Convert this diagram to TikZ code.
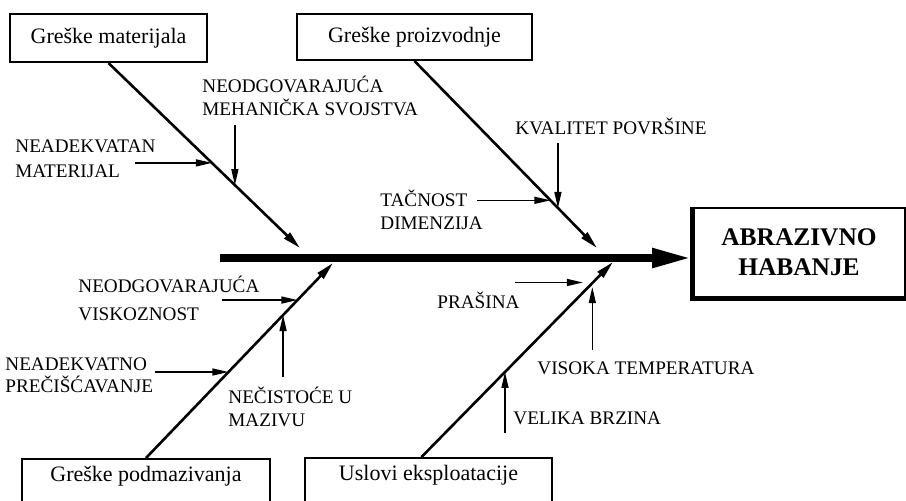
\documentclass[tikz,border=0pt]{standalone}
\usepackage{fontspec}
\setmainfont{Liberation Serif}
\usetikzlibrary{arrows.meta,calc}

\begin{document}
\begin{tikzpicture}[x=0.5pt,y=-0.5pt,
	catbox/.style={draw,line width=1pt,inner sep=0pt,font=\fontsize{11}{13}\selectfont},
	cause/.style={anchor=west,inner sep=0pt,align=left,font=\fontsize{9.6}{11.5}\selectfont},
	bone/.style={line width=1.3pt,-{Triangle[length=9pt,width=4pt]}},
	twig/.style={line width=0.65pt,-{Triangle[length=8pt,width=3.5pt]}}]
	\useasboundingbox (0,0) rectangle (906,500);
	% kategorije
	\node[catbox,minimum width=98.5pt,minimum height=24pt] (mat) at (108.5,38) {Greške materijala};
	\node[catbox,minimum width=117.5pt,minimum height=23pt] (proiz) at (414.5,37) {Greške proizvodnje};
	\node[catbox,anchor=north,minimum width=124pt,inner ysep=3pt,text height=8pt,text depth=20pt] (podm) at (146,458) {Greške podmazivanja};
	\node[catbox,anchor=north,minimum width=123.5pt,inner ysep=3pt,text height=8pt,text depth=20pt] (uslovi) at (428.5,457) {Uslovi eksploatacije};
	% posledica
	\node[draw,line width=1pt,minimum width=106pt,minimum height=44.5pt,align=center,
		font=\bfseries\fontsize{12.7}{15}\selectfont] (ab) at (799,252.5) {ABRAZIVNO\\HABANJE};
	\draw[line width=2.5pt] (ab.north west) -- (ab.south west) -- (ab.south east);
	% kicma
	\coordinate (tail) at (220,258);
	\draw[line width=4pt,-{Triangle[length=20pt,width=9pt]}] (tail) -- (tail -| ab.west);
	% glavne grane
	\coordinate (h1) at (300,248);
	\coordinate (h2) at (597,248);
	\coordinate (h3) at (333,263);
	\coordinate (h4) at (613,262);
	\coordinate (u4) at ($(uslovi.north)+(-7,0)$);
	\draw[bone] (mat.south) -- (h1);
	\draw[bone] (proiz.south) -- (h2);
	\draw[bone] (podm.north) -- (h3);
	\draw[bone] (u4) -- (h4);
	% uzroci
	\node[cause] (nmat) at (15,158.5) {NEADEKVATAN\\[1pt]MATERIJAL};
	\node[cause] (nmeh) at (202,96) {NEODGOVARAJUĆA\\MEHANIČKA SVOJSTVA};
	\node[cause] (tdim) at (380,210) {TAČNOST\\DIMENZIJA};
	\node[cause] (kpov) at (515,126) {KVALITET POVRŠINE};
	\node[cause] (nvis) at (78,298.5) {NEODGOVARAJUĆA\\[2.5pt]VISKOZNOST};
	\node[cause] (nprec) at (5,375) {NEADEKVATNO\\[-0.5pt]PREČIŠĆAVANJE};
	\node[cause] (nmaz) at (228,407) {NEČISTOĆE U\\MAZIVU};
	\node[cause] (pras) at (437,300.5) {PRAŠINA};
	\node[cause] (vtem) at (537,368) {VISOKA TEMPERATURA};
	\node[cause] (vbrz) at (513,418) {VELIKA BRZINA};
	% tacke na granama
	\coordinate (t1) at ($(mat.south)!.54!(h1)$);
	\coordinate (t2) at ($(mat.south)!.66!(h1)$);
	\coordinate (t3) at ($(proiz.south)!.745!(h2)$);
	\coordinate (t4) at ($(proiz.south)!.786!(h2)$);
	\coordinate (t5) at ($(podm.north)!.81!(h3)$);
	\coordinate (t6) at ($(podm.north)!.441!(h3)$);
	\coordinate (t7) at ($(podm.north)!.733!(h3)$);
	\coordinate (t8) at ($(u4)!.895!(h4)$);
	\coordinate (t9) at ($(u4)!.892!(h4)$);
	\coordinate (t10) at ($(u4)!.436!(h4)$);
	\draw[twig] ($(t1)+(-77,0)$) -- (t1);
	\draw[twig] ($(t2)+(0,-60)$) -- (t2);
	\draw[twig] ($(t3)+(-73,0)$) -- (t3);
	\draw[twig] ($(t4)+(0,-65)$) -- (t4);
	\draw[twig] ($(t5)+(-75,0)$) -- (t5);
	\draw[twig] ($(t6)+(-73,0)$) -- (t6);
	\draw[twig] ($(t7)+(0,62)$) -- (t7);
	\draw[twig,shorten >=5pt] ($(t8)+(-78,0)$) -- (t8);
	\draw[twig,shorten >=2pt] ($(t9)+(0,67)$) -- (t9);
	\draw[twig] ($(t10)+(0,61)$) -- (t10);
\end{tikzpicture}
\end{document}
